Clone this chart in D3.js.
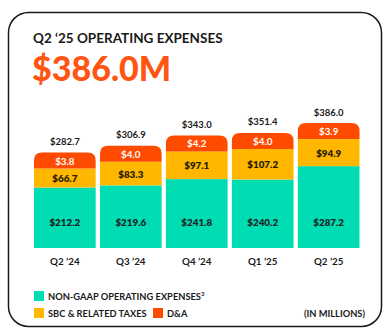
<!DOCTYPE html>
<html>
<head>
<meta charset="utf-8">
<script src="https://cdn.jsdelivr.net/npm/d3@7"></script>
<style>
  html, body { margin: 0; padding: 0; background: #fff; }
  svg { display: block; font-family: Lato, "Noto Sans", sans-serif; }
</style>
</head>
<body>
<svg id="chart" width="389" height="333"></svg>
<script>
// Quarterly operating expenses, stacked by component ($M)
const quarters = ["Q2 \u201924", "Q3 \u201924", "Q4 \u201924", "Q1 \u201925", "Q2 \u201925"];
const nonGaap = [212.2, 219.6, 241.8, 240.2, 287.2];
const sbc = [66.7, 83.3, 97.1, 107.2, 94.9];
const dna = [3.8, 4.0, 4.2, 4.0, 3.9];
const totals = [282.7, 306.9, 343.0, 351.4, 386.0];

const seriesNames = ["NON-GAAP OPERATING EXPENSES", "SBC & RELATED TAXES", "D&A"];
const colors = { nonGaap: "#00DDB3", sbc: "#FFB700", dna: "#FF4B00" };

const svg = d3.select("#chart");
const fmt = v => "$" + d3.format(".1f")(v);

// card outline
svg.append("rect")
  .attr("x", 8.5).attr("y", 12.5)
  .attr("width", 373).attr("height", 314)
  .attr("rx", 20)
  .attr("fill", "#fff")
  .attr("stroke", "#1a1a1a")
  .attr("stroke-width", 1.5);

svg.append("text")
  .attr("x", 33).attr("y", 43)
  .attr("font-size", 13.5).attr("font-weight", 700)
  .attr("fill", "#1a1a1a")
  .text("Q2 \u201825 OPERATING EXPENSES");

svg.append("text")
  .attr("x", 32).attr("y", 81)
  .attr("font-size", 34).attr("font-weight", 900)
  .attr("fill", "#FF5412")
  .text(fmt(totals[4]) + "M");

const x = d3.scaleBand()
  .domain(quarters)
  .range([34, 359.5])
  .paddingInner(0.065);

const baseY = 248;
const y = d3.scaleLinear().domain([0, 400]).range([baseY, baseY - 114]);
const minBand = 16;   // keep the thin D&A band readable

const rows = quarters.map((q, i) => {
  const y0 = y(0), y1 = y(nonGaap[i]), y2 = y(nonGaap[i] + sbc[i]);
  const dnaH = Math.max(minBand, y(0) - y(dna[i]));
  return { q, i, y0, y1, y2, y3: y2 - dnaH };
});

const r = 8;
// top-rounded rectangle path
function topRounded(x0, w, top, bottom) {
  return `M${x0},${bottom}V${top + r}Q${x0},${top} ${x0 + r},${top}` +
    `H${x0 + w - r}Q${x0 + w},${top} ${x0 + w},${top + r}V${bottom}Z`;
}

const g = svg.append("g");
rows.forEach(d => {
  const x0 = x(d.q), w = x.bandwidth();
  g.append("rect").attr("x", x0).attr("y", d.y1).attr("width", w).attr("height", d.y0 - d.y1)
    .attr("fill", colors.nonGaap);
  g.append("rect").attr("x", x0).attr("y", d.y2).attr("width", w).attr("height", d.y1 - d.y2)
    .attr("fill", colors.sbc);
  g.append("path").attr("d", topRounded(x0, w, d.y3, d.y2)).attr("fill", colors.dna);

  const cx = x0 + w / 2;
  const lbl = (yy, txt, fill, size, weight) => g.append("text")
    .attr("x", cx).attr("y", yy)
    .attr("text-anchor", "middle").attr("dominant-baseline", "central")
    .attr("font-size", size).attr("font-weight", weight)
    .attr("fill", fill).text(txt);

  lbl(222, fmt(nonGaap[d.i]), "#1a2a28", 9.8, 800);
  lbl((d.y1 + d.y2) / 2, fmt(sbc[d.i]), "#2a1f00", 9.8, 800);
  lbl((d.y2 + d.y3) / 2, fmt(dna[d.i]), "#fff", 9.8, 700);
  lbl(d.y3 - 11, fmt(totals[d.i]), "#1a1a1a", 9.5, 700);
  lbl(261, d.q, "#1a1a1a", 9.8, 700);
});

// legend
const leg = svg.append("g").attr("font-size", 9.3).attr("font-weight", 700).attr("fill", "#1a1a1a");
const items = [
  { name: seriesNames[0], sup: "3", color: colors.nonGaap, x: 34, y: 291 },
  { name: seriesNames[1], color: colors.sbc, x: 34, y: 308 },
  { name: seriesNames[2], color: colors.dna, x: 153, y: 308 }
];
items.forEach(it => {
  leg.append("rect").attr("x", it.x).attr("y", it.y).attr("width", 10).attr("height", 10)
    .attr("fill", it.color);
  const t = leg.append("text").attr("x", it.x + 14).attr("y", it.y + 8.5).text(it.name);
  if (it.sup) t.append("tspan").attr("font-size", 6).attr("dy", -4).text(it.sup);
});
leg.append("text")
  .attr("x", 365).attr("y", 316.5)
  .attr("text-anchor", "end")
  .text("(IN MILLIONS)");
</script>
</body>
</html>
